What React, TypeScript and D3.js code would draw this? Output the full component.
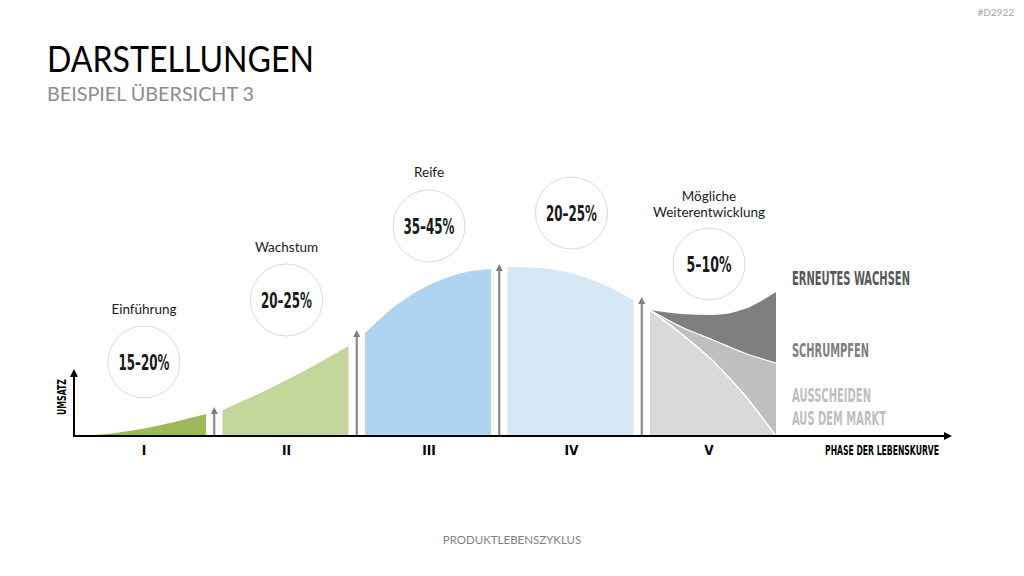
import React from "react";
import * as d3 from "d3";

// Product life cycle: five phases, share of turnover per phase
const phases = ["I", "II", "III", "IV", "V"];
const phaseTitles = [["Einführung"], ["Wachstum"], ["Reife"], [], ["Mögliche", "Weiterentwicklung"]];
const shareLabels = ["15–20%", "20–25%", "35–45%", "20–25%", "5–10%"];
const phaseColors = ["#9bbb59", "#c4d79b", "#afd4ef", "#d6e8f6"];

// turnover (0–100) sampled at these relative positions inside each phase
const samplePos = [0, 0.25, 0.5, 0.75, 1];
const umsatzI = [0, 1.5, 4.2, 8.2, 12.9];
const umsatzII = [15.3, 23.5, 32.6, 42.4, 52.9];
const umsatzIII = [60.6, 77, 88.5, 95.5, 98.2];
const umsatzIV = [99.4, 98.8, 95.9, 89.4, 80];
const umsatzPhases = [umsatzI, umsatzII, umsatzIII, umsatzIV];

// phase V scenarios
const wachsenV = [74.1, 71.8, 71.2, 74.7, 84.7];
const schrumpfenV = [74.1, 64.1, 56.5, 48.8, 42.9];
const ausscheidenV = [74.1, 60, 44.1, 24.1, 0];

const scenarioLabels = [["ERNEUTES WACHSEN"], ["SCHRUMPFEN"], ["AUSSCHEIDEN", "AUS DEM MARKT"]];
const scenarioColors = ["#595959", "#7f7f7f", "#bfbfbf"];

const condensed = "'DejaVu Sans Condensed', 'Liberation Sans Narrow', Roboto, sans-serif";
const body = "Lato, 'Open Sans', sans-serif";

const W = 1024;
const H = 576;
const baseY = 436;

const x = d3.scaleBand<string>().domain(phases).range([80, 776]).paddingInner(0.1158).paddingOuter(0);
const y = d3.scaleLinear().domain([0, 100]).range([baseY, 266]);

const gap = x.step() - x.bandwidth();
const inPhase = (p: string) =>
  d3.scaleLinear().domain([0, 1]).range([x(p)!, x(p)! + x.bandwidth()]);

// label column per phase (the last one sits a little left of its band centre)
const labelX = (i: number) => x(phases[i])! + x.bandwidth() / 2 + (i === 4 ? -4 : 1);
const circleY = [362, 300, 226, 213, 264];
const titleY = [314, 252, 177, 0, 201];

export default function App() {
  const areaFor = (p: string, vals: number[]) => {
    const sx = inPhase(p);
    return d3
      .area<number>()
      .x((_, i) => sx(samplePos[i]))
      .y0(y(0))
      .y1((d) => y(d))
      .curve(d3.curveMonotoneX)(vals)!;
  };

  const sxV = inPhase("V");
  const between = (lo: number[], hi: number[]) =>
    d3
      .area<number>()
      .x((_, i) => sxV(samplePos[i]))
      .y0((_, i) => y(lo[i]))
      .y1((_, i) => y(hi[i]))
      .curve(d3.curveMonotoneX)(samplePos)!;
  const lineV = (vals: number[]) =>
    d3
      .line<number>()
      .x((_, i) => sxV(samplePos[i]))
      .y((d) => y(d))
      .curve(d3.curveMonotoneX)(vals)!;

  const allPhaseVals = [...umsatzPhases, wachsenV];
  const arrows = phases.slice(1).map((p, i) => {
    const prevEnd = allPhaseVals[i][allPhaseVals[i].length - 1];
    const nextStart = allPhaseVals[i + 1][0];
    return { x: x(p)! - gap / 2, top: y(Math.max(prevEnd, nextStart)) - 3 };
  });

  const zero = [0, 0, 0, 0, 0];
  const xEnd = 952;

  return (
    <svg
      width={W}
      height={H}
      style={{ position: "absolute", left: 0, top: 0, background: "#fff" }}
    >
      <text x={1014} y={16} textAnchor="end" fontFamily={body} fontSize={10} fill="#a6a6a6">
        #D2922
      </text>
      <text x={47} y={72} fontFamily={body} fontSize={37} fill="#000" textLength={267} lengthAdjust="spacingAndGlyphs">
        DARSTELLUNGEN
      </text>
      <text x={47} y={101} fontFamily={body} fontSize={20} fill="#8c8c8c" textLength={207} lengthAdjust="spacingAndGlyphs">
        BEISPIEL ÜBERSICHT 3
      </text>

      {/* phases I–IV */}
      {umsatzPhases.map((vals, i) => (
        <path key={i} d={areaFor(phases[i], vals)} fill={phaseColors[i]} />
      ))}

      {/* phase V scenarios */}
      <path d={between(zero, ausscheidenV)} fill="#d9d9d9" />
      <path d={between(ausscheidenV, schrumpfenV)} fill="#bfbfbf" />
      <path d={between(schrumpfenV, wachsenV)} fill="#7f7f7f" />
      <path d={lineV(ausscheidenV)} fill="none" stroke="#fff" strokeWidth={1.5} />
      <path d={lineV(schrumpfenV)} fill="none" stroke="#fff" strokeWidth={1.2} />

      {/* arrows between phases */}
      {arrows.map((a, i) => (
        <g key={i}>
          <line x1={a.x} x2={a.x} y1={baseY} y2={a.top + 6} stroke="#808080" strokeWidth={2} />
          <path d={`M${a.x - 3.5},${a.top + 7} L${a.x},${a.top} L${a.x + 3.5},${a.top + 7} Z`} fill="#808080" />
        </g>
      ))}

      {/* axes */}
      <line x1={74} x2={xEnd - 6} y1={baseY} y2={baseY} stroke="#000" strokeWidth={2} />
      <path d={`M${xEnd - 8},${baseY - 4} L${xEnd},${baseY} L${xEnd - 8},${baseY + 4} Z`} fill="#000" />
      <line x1={74} x2={74} y1={baseY + 1} y2={375} stroke="#000" strokeWidth={2} />
      <path d={`M70,377 L74,369 L78,377 Z`} fill="#000" />
      <text
        transform={`translate(66,397) rotate(-90)`}
        textAnchor="middle"
        fontFamily={condensed}
        fontWeight="bold"
        fontSize={12.5}
        fill="#000"
        textLength={36}
        lengthAdjust="spacingAndGlyphs"
      >
        UMSATZ
      </text>
      <text x={939} y={455} textAnchor="end" fontFamily={condensed} fontWeight="bold" fontSize={13.5} fill="#000" textLength={114} lengthAdjust="spacingAndGlyphs">
        PHASE DER LEBENSKURVE
      </text>

      {/* phase numerals */}
      {phases.map((p, i) => (
        <text key={p} x={labelX(i)} y={455} textAnchor="middle" fontFamily={condensed} fontWeight="bold" fontSize={13.5} fill="#000">
          {p}
        </text>
      ))}

      {/* share circles and phase titles */}
      {phases.map((p, i) => {
        const cx = labelX(i);
        return (
          <g key={p}>
            <circle cx={cx} cy={circleY[i]} r={36} fill="#fff" stroke="#d9d9d9" strokeWidth={1} />
            <text x={cx} y={circleY[i] + 8} textAnchor="middle" fontFamily={condensed} fontWeight="bold" fontSize={21.5} fill="#1a1a1a" textLength={i === 4 ? 45 : 51} lengthAdjust="spacingAndGlyphs">
              {shareLabels[i]}
            </text>
            {phaseTitles[i].map((t, j) => (
              <text key={j} x={cx} y={titleY[i] + j * 16} textAnchor="middle" fontFamily={body} fontSize={13.5} fill="#1a1a1a">
                {t}
              </text>
            ))}
          </g>
        );
      })}

      {/* scenario labels */}
      {[285, 357, 402].map((ty, i) =>
        scenarioLabels[i].map((t, j) => (
          <text key={`${i}-${j}`} x={792} y={ty + j * 23} fontFamily={condensed} fontWeight="bold" fontSize={19} fill={scenarioColors[i]} textLength={[[118], [77], [79, 94]][i][j]} lengthAdjust="spacingAndGlyphs">
            {t}
          </text>
        ))
      )}

      <text x={512} y={544} textAnchor="middle" fontFamily={body} fontSize={11.5} fill="#7f7f7f">
        PRODUKTLEBENSZYKLUS
      </text>
    </svg>
  );
}
